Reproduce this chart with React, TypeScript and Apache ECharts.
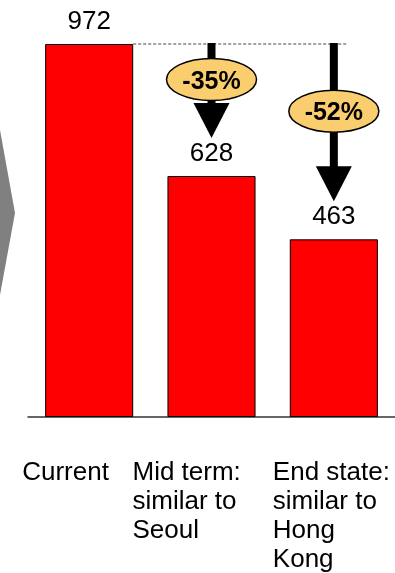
import { useEffect, useRef } from 'react';
import * as echarts from 'echarts';

// Bar categories (multi-line captions) and their values
const categories = ['Current', 'Mid term:\nsimilar to\nSeoul', 'End state:\nsimilar to\nHong\nKong'];
const values = [972, 628, 463];
// Left edge of each caption relative to its band centre
const captionShift = [-67, -79, -61];

const FONT = '"Liberation Sans", Arial, Helvetica, sans-serif';

export default function App() {
  const ref = useRef<HTMLDivElement>(null);

  useEffect(() => {
    const chart = echarts.init(ref.current!, null, { renderer: 'svg' });
    const base = values[0];
    const lastIdx = categories.length - 1;
    // [category index, new value, reference value, % change]
    const changes = values
      .slice(1)
      .map((v, i) => [i + 1, v, base, Math.round((v / base - 1) * 100)]);

    chart.setOption({
      animation: false,
      grid: { left: 28, right: 0, top: 44, bottom: 156 },
      xAxis: {
        type: 'category',
        data: categories,
        axisLine: { show: true, lineStyle: { color: '#333', width: 1.5 } },
        axisTick: { show: false },
        axisLabel: { show: false },
        splitLine: { show: false },
      },
      yAxis: { type: 'value', min: 0, max: base, show: false },
      graphic: [
        {
          type: 'polygon',
          shape: { points: [[0, 130], [15, 213], [0, 295]] },
          style: { fill: '#808080' },
        },
      ],
      series: [
        {
          type: 'bar',
          data: values,
          barWidth: '72%',
          itemStyle: { color: '#FF0000', borderColor: '#000', borderWidth: 1 },
          label: {
            show: true,
            position: 'top',
            distance: 11,
            fontSize: 26,
            color: '#000',
            fontFamily: FONT,
          },
        },
        {
          type: 'custom',
          data: changes,
          z: 3,
          renderItem: (params: any, api: any) => {
            const idx = api.value(0);
            const to = api.value(1);
            const from = api.value(2);
            const pct = api.value(3);
            const [x, yTo] = api.coord([idx, to]);
            const yFrom = api.coord([idx, from])[1];
            const tipY = yTo - 38;
            const headTop = tipY - 35;
            const cy = (yFrom + headTop) / 2 + 6;
            const children: any[] = [];
            if (params.dataIndex === 0) {
              const halfBar = api.size([1, 0])[0] * 0.36;
              const x0 = api.coord([0, from])[0] + halfBar;
              const x1 = api.coord([lastIdx, from])[0] + 13;
              children.push({
                type: 'line',
                shape: { x1: x0, y1: yFrom, x2: x1, y2: yFrom },
                style: { stroke: '#444', lineWidth: 1, lineDash: [3, 2] },
              });
            }
            children.push(
              {
                type: 'rect',
                shape: { x: x - 4, y: yFrom - 1, width: 8, height: headTop - yFrom + 2 },
                style: { fill: '#000' },
              },
              {
                type: 'polygon',
                shape: { points: [[x - 18, headTop], [x + 18, headTop], [x, tipY]] },
                style: { fill: '#000' },
              },
              {
                type: 'ellipse',
                shape: { cx: x, cy, rx: 45, ry: 21 },
                style: { fill: '#FACD6E', stroke: '#000', lineWidth: 1.5 },
              },
              {
                type: 'text',
                style: {
                  x,
                  y: cy,
                  text: `${pct}%`,
                  align: 'center',
                  verticalAlign: 'middle',
                  fontSize: 25,
                  fontWeight: 'bold',
                  fontFamily: FONT,
                  fill: '#000',
                },
              }
            );
            return { type: 'group', children };
          },
        },
        {
          type: 'custom',
          data: categories.map((_, i) => [i, 0]),
          renderItem: (params: any, api: any) => {
            const i = api.value(0);
            const [x, y] = api.coord([i, 0]);
            return {
              type: 'text',
              style: {
                x: x + captionShift[i],
                y: y + 39,
                text: categories[i],
                align: 'left',
                verticalAlign: 'top',
                fontSize: 26,
                lineHeight: 29,
                fontFamily: FONT,
                fill: '#000',
              },
            };
          },
        },
      ],
    });

    return () => chart.dispose();
  }, []);

  return (
    <div style={{ position: 'fixed', left: 0, top: 0 }}>
      <div ref={ref} style={{ width: 395, height: 573 }} />
    </div>
  );
}
